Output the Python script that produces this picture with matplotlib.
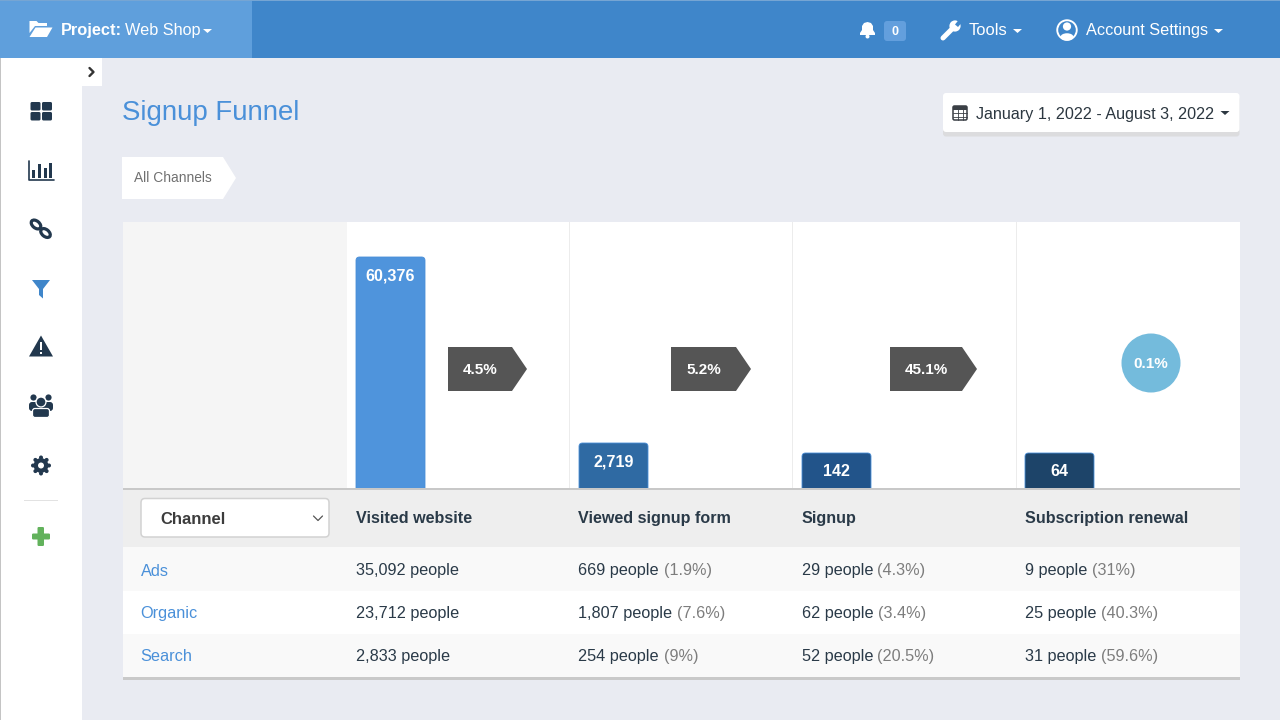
import matplotlib
matplotlib.use("Agg")
import matplotlib.pyplot as plt
from matplotlib.patches import Rectangle, Polygon, Circle, FancyBboxPatch, Ellipse

plt.rcParams['font.family'] = ['Liberation Sans', 'DejaVu Sans']

# ---- data ----
steps = ["Visited website", "Viewed signup form", "Signup", "Subscription renewal"]
step_totals = [60376, 2719, 142, 64]
bar_heights = [231, 45, 35, 35]  # drawn heights (small bars have a floor)
bar_colors = ["#4f94dc", "#2f6aa3", "#22548a", "#1d4469"]
conversions = ["4.5%", "5.2%", "45.1%"]
last_conversion = "0.1%"
channels = ["Ads", "Organic", "Search"]
visited = ["35,092 people", "23,712 people", "2,833 people"]
viewed = ["669 people", "1,807 people", "254 people"]
viewed_pct = ["(1.9%)", "(7.6%)", "(9%)"]
signup = ["29 people", "62 people", "52 people"]
signup_pct = ["(4.3%)", "(3.4%)", "(20.5%)"]
renewal = ["9 people", "25 people", "31 people"]
renewal_pct = ["(31%)", "(40.3%)", "(59.6%)"]

NAVY = "#22384e"
BLUE = "#3f86ca"
LINK = "#4a90d9"
TEXT = "#2a3a48"
MUTED = "#7d7d7d"

fig = plt.figure(figsize=(12.8, 7.2), dpi=100, facecolor="#e9ebf2")
ax = fig.add_axes([0, 0, 1, 1])
ax.set_xlim(0, 1280)
ax.set_ylim(720, 0)
ax.axis("off")


def rect(x0, y0, x1, y1, c, z=1):
    ax.add_patch(Rectangle((x0, y0), x1 - x0, y1 - y0, fc=c, ec="none", zorder=z))


def round_rect(x0, y0, x1, y1, c, r=3, z=1, ec="none", lw=0):
    ax.add_patch(FancyBboxPatch((x0 + r, y0 + r), x1 - x0 - 2 * r, y1 - y0 - 2 * r,
                                boxstyle=f"round,pad={r},rounding_size={r}",
                                fc=c, ec=ec, lw=lw, zorder=z))


def poly(pts, c, z=5):
    ax.add_patch(Polygon(pts, closed=True, fc=c, ec="none", zorder=z))


def circ(x, y, r, c, z=5):
    ax.add_patch(Circle((x, y), r, fc=c, ec="none", zorder=z))


def line(xs, ys, c, lw=1.0, z=5):
    ax.plot(xs, ys, color=c, lw=lw, zorder=z, solid_capstyle="round", solid_joinstyle="round")


def txt(x, y, s, size=11.7, c=TEXT, w="normal", ha="left", z=8):
    return ax.text(x, y, s, fontsize=size, color=c, fontweight=w, ha=ha, va="baseline", zorder=z)


def caret(cx, cy, c, hw=4.5, h=4.5):
    poly([(cx - hw, cy), (cx + hw, cy), (cx, cy + h)], c, z=8)


# ---- chrome ----
rect(0, 0, 1280, 58, BLUE)
rect(0, 0, 252, 58, "#5f9fdc", 2)
rect(0, 0, 1280, 1, "#76a5d3", 3)
rect(0, 58, 82, 720, "white")
rect(82, 58, 102, 86, "white")
rect(0, 58, 1, 720, "#c4c4c4", 2)

# folder icon
poly([(29.5, 21), (36.5, 21), (38.5, 23), (47, 23), (47, 26), (35, 26), (29.5, 33)], "white")
poly([(35.5, 27.5), (52.5, 27.5), (47, 37), (29.5, 37)], "white")
txt(60.5, 35, "Project:", 11.8, "white", "bold")
txt(125, 35, "Web Shop", 11.7, "white")
caret(207.5, 29, "white", 4.5, 4)

# bell and counter
poly([(860, 33), (862, 30), (862, 26), (864, 23), (867.5, 22), (871, 23), (873, 26), (873, 30),
      (875, 33), (875, 35), (860, 35)], "white")
circ(867.5, 36.5, 2, "white")
round_rect(884, 21, 906, 41, "#639fdd", 3, 5)
txt(895, 35, "0", 9, "white", "bold", "center")
# wrench
line([943, 952], [38, 29], "white", 3.6)
circ(955, 26, 5.6, "white")
poly([(955, 24.5), (959, 19.5), (963, 21), (958, 27)], BLUE, 6)
txt(968.5, 35, "Tools", 11.9, "white")
caret(1017.5, 29, "white", 4.5, 4)
# user
circ(1067, 30, 10.7, "white")
circ(1067, 30, 8.8, BLUE, 6)
circ(1067, 26.5, 4.1, "white", 7)
ax.add_patch(Ellipse((1067, 37), 13, 7.5, fc="white", ec="none", zorder=7))
txt(1085.5, 35, "Account Settings", 11.7, "white")
caret(1218.5, 29, "white", 4.5, 4)

# collapse chevron
line([89.5, 93.5, 89.5], [68, 72, 76], "#333333", 1.7, 8)

# sidebar icons
for x0, y0 in [(30.5, 102), (42, 102), (30.5, 112), (42, 112)]:
    round_rect(x0, y0, x0 + 10, y0 + 8.5, NAVY, 1.5, 5)
line([28.5, 28.5, 54], [161, 179.5, 179.5], NAVY, 1.2)
for bx, by in [(32, 170), (38, 164), (43.5, 168), (49, 163)]:
    rect(bx, by, bx + 3.2, 178, NAVY, 5)
ax.add_patch(Ellipse((36, 224.5), 11, 7, angle=40, fc="none", ec=NAVY, lw=2.3, zorder=5))
ax.add_patch(Ellipse((45.5, 233), 11, 7, angle=40, fc="none", ec=NAVY, lw=2.3, zorder=5))
poly([(32, 280), (50, 280), (43, 289), (43, 298.5), (39, 295), (39, 289)], BLUE)
poly([(41, 335.5), (53, 356.5), (29, 356.5)], NAVY)
rect(39.6, 342, 42.4, 350, "white", 6)
rect(39.6, 351.5, 42.4, 354, "white", 6)
# people
for cx, cy in [(33.5, 397.5), (48.5, 397.5)]:
    circ(cx, cy, 3.1, NAVY)
round_rect(29, 402, 53, 411, NAVY, 3, 5)
circ(41, 402, 5.6, "white", 5.5)
circ(41, 402, 4.3, NAVY, 6)
ax.add_patch(FancyBboxPatch((34, 410), 14, 6, boxstyle="round,pad=1.5,rounding_size=2.5",
                            fc=NAVY, ec="white", lw=0.9, zorder=5.5))
circ(41, 465.5, 7.4, NAVY)
for px, py in [(41, 457.5), (41, 473.5), (33, 465.5), (49, 465.5), (35.4, 459.9), (46.6, 459.9), (35.4, 471.1), (46.6, 471.1)]:
    circ(px, py, 2.0, NAVY)
circ(41, 465.5, 3, "white", 6)
rect(24, 500, 58, 501, "#e2e2e2", 5)
round_rect(37.5, 527, 44, 546, "#62b25c", 1.2, 5)
round_rect(32, 533.5, 50, 539.5, "#62b25c", 1.2, 5)

# title, breadcrumb, date
txt(122, 120, "Signup Funnel", 19.9, "#4a90d9")
poly([(122, 157), (223, 157), (236, 178), (223, 199), (122, 199)], "white", 2)
txt(133.5, 182.5, "All Channels", 9.9, "#707070")
round_rect(943, 97, 1239.5, 136.5, "#dcdcde", 3, 2)
round_rect(943, 93, 1239.5, 132, "white", 3, 3)
round_rect(953, 106, 967, 120, "none", 1.5, 5, ec="#3a3f45", lw=1.1)
rect(953, 106, 967, 109.5, "#3a3f45", 5)
for gx in [957.5, 962.5]:
    line([gx, gx], [109, 120], "#3a3f45", 0.6)
for gy in [113, 116.5]:
    line([953, 967], [gy, gy], "#3a3f45", 0.6)
txt(975.5, 118.5, "January 1, 2022 - August 3, 2022", 11.65, "#2c3740")
caret(1225, 111, "#2c3740", 4.5, 4)

# ---- funnel card ----
rect(122.5, 222, 1240, 680, "#c9c9c9", 1)
rect(123, 222, 1239.5, 488, "white", 2)
rect(123, 222, 347, 488, "#f5f5f5", 2)
for sx in [569, 792, 1016]:
    rect(sx, 222, sx + 1, 488, "#ececec", 2.5)

bar_left = [356, 579, 802, 1025]
bar_w = 69
baseline = 488
for bx, tot, h, col in zip(bar_left, step_totals, bar_heights, bar_colors):
    top = baseline - h
    round_rect(bx, top, bx + bar_w, baseline + 6, col, 3.5, 3, ec="#4a8fd8", lw=0.6)
    txt(bx + bar_w / 2, top + 23.5, f"{tot:,}", 11.6, "white", "bold", "center")

tag_x = [448, 671, 890]
tag_w = [64, 65, 72]
for tx, tw, label in zip(tag_x, tag_w, conversions):
    poly([(tx, 347), (tx + tw, 347), (tx + tw + 15, 369), (tx + tw, 391), (tx, 391)], "#555555", 4)
    txt(tx + tw / 2, 374, label, 11, "white", "bold", "center")
circ(1151, 363, 29.5, "#74bbdc", 4)
txt(1151, 368, last_conversion, 11, "white", "bold", "center")

# table (drawn over the feet of the bars)
rect(123, 488, 1239.5, 489.5, "#c8c8c8", 6)
rect(123, 489.5, 1239.5, 547, "#eeeeee", 5)
row_tops = [547, 591, 634]
row_bot = [591, 634, 677]
row_col = ["#f9f9f9", "white", "#f9f9f9"]
for t, b, c in zip(row_tops, row_bot, row_col):
    rect(123, t, 1239.5, b, c, 2)

round_rect(141, 498.5, 329, 537, "white", 4, 6, ec="#d2d2d2", lw=1.1)
txt(160, 523.5, "Channel", 12, "#3c3c3c", "bold")
line([313.5, 318, 322.5], [516, 520.5, 516], "#555555", 0.9, 7)

col_x = [355.5, 578.5, 801.5, 1025]
for x, s in zip(col_x, steps):
    txt(x, 523, s, 11.6, TEXT, "bold")

fig.canvas.draw()
rend = fig.canvas.get_renderer()
row_base = [575.5, 618, 661]
for i, ybase in enumerate(row_base):
    txt(140.5, ybase, channels[i], 11.7, LINK)
    txt(col_x[0], ybase, visited[i], 11.7, TEXT)
    for x, main, pct in [(col_x[1], viewed[i], viewed_pct[i]),
                         (col_x[2], signup[i], signup_pct[i]),
                         (col_x[3], renewal[i], renewal_pct[i])]:
        t = txt(x, ybase, main, 11.7, TEXT)
        w = t.get_window_extent(rend).width
        txt(x + w + 4.5, ybase, pct, 11.7, MUTED)

fig.savefig("out.png", dpi=100, facecolor=fig.get_facecolor())
